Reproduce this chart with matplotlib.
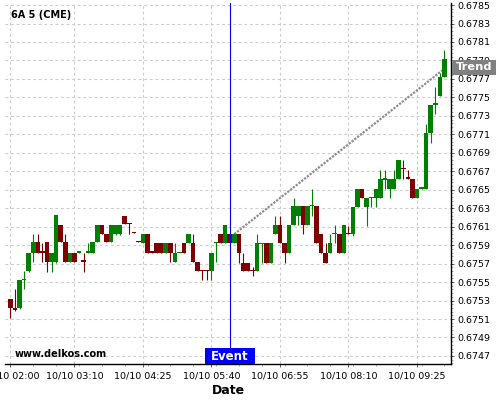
import numpy as np
import matplotlib
matplotlib.use("Agg")
import matplotlib.pyplot as plt
from matplotlib.patches import Rectangle
from matplotlib.ticker import FixedLocator, AutoMinorLocator, FuncFormatter
import matplotlib.transforms as mtransforms

# ---- data (5-minute bars, 10/10 02:00 .. 09:55) ----
opens = [0.67532, 0.67521, 0.67522, 0.67552, 0.67562, 0.67582, 0.67593, 0.67583, 0.67593, 0.67572,
         0.67572, 0.67612, 0.67593, 0.67572, 0.67582, 0.67582, 0.67573, 0.67582, 0.67582, 0.67593,
         0.67612, 0.67602, 0.67593, 0.67602, 0.67602, 0.67622, 0.67614, 0.67604, 0.67594, 0.67592,
         0.67602, 0.67583, 0.67592, 0.67592, 0.67582, 0.67592, 0.67572, 0.67581, 0.67592, 0.67592,
         0.67592, 0.67572, 0.67563, 0.67563, 0.67562, 0.67592, 0.67602, 0.67592, 0.67602, 0.67592,
         0.67602, 0.67571, 0.67571, 0.67563, 0.67562, 0.67591, 0.67592, 0.67571, 0.67602, 0.67612,
         0.67592, 0.67582, 0.67612, 0.67622, 0.67632, 0.67612, 0.67632, 0.67632, 0.67602, 0.67582,
         0.67582, 0.67602, 0.67602, 0.67582, 0.67603, 0.67602, 0.67631, 0.67651, 0.67631, 0.67641,
         0.67641, 0.67641, 0.67661, 0.67651, 0.67651, 0.67662, 0.67673, 0.67663, 0.67662, 0.67641,
         0.67651, 0.67651, 0.67711, 0.67742, 0.67752, 0.67772]
closes = [0.67522, 0.67520, 0.67552, 0.67553, 0.67582, 0.67593, 0.67582, 0.67582, 0.67572, 0.67582,
          0.67623, 0.67593, 0.67572, 0.67582, 0.67572, 0.67583, 0.67572, 0.67583, 0.67593, 0.67612,
          0.67602, 0.67593, 0.67612, 0.67612, 0.67612, 0.67613, 0.67613, 0.67603, 0.67593, 0.67602,
          0.67582, 0.67582, 0.67582, 0.67582, 0.67592, 0.67582, 0.67582, 0.67582, 0.67582, 0.67602,
          0.67572, 0.67562, 0.67562, 0.67562, 0.67582, 0.67593, 0.67592, 0.67612, 0.67592, 0.67602,
          0.67582, 0.67562, 0.67562, 0.67562, 0.67592, 0.67592, 0.67571, 0.67592, 0.67612, 0.67592,
          0.67582, 0.67612, 0.67632, 0.67632, 0.67612, 0.67632, 0.67633, 0.67592, 0.67582, 0.67571,
          0.67592, 0.67603, 0.67582, 0.67612, 0.67602, 0.67631, 0.67651, 0.67641, 0.67641, 0.67642,
          0.67651, 0.67662, 0.67662, 0.67662, 0.67662, 0.67682, 0.67672, 0.67662, 0.67641, 0.67651,
          0.67652, 0.67711, 0.67742, 0.67743, 0.67772, 0.67792]
highs = [0.67532, 0.67542, 0.67552, 0.67562, 0.67582, 0.67602, 0.67602, 0.67592, 0.67593, 0.67582,
         0.67623, 0.67612, 0.67602, 0.67582, 0.67582, 0.67583, 0.67582, 0.67592, 0.67593, 0.67612,
         0.67612, 0.67602, 0.67612, 0.67612, 0.67612, 0.67622, 0.67614, 0.67604, 0.67594, 0.67602,
         0.67602, 0.67583, 0.67592, 0.67592, 0.67592, 0.67592, 0.67592, 0.67582, 0.67592, 0.67602,
         0.67602, 0.67572, 0.67563, 0.67563, 0.67582, 0.67593, 0.67602, 0.67612, 0.67602, 0.67602,
         0.67602, 0.67581, 0.67571, 0.67566, 0.67602, 0.67592, 0.67592, 0.67592, 0.67622, 0.67622,
         0.67592, 0.67612, 0.67641, 0.67632, 0.67632, 0.67632, 0.67651, 0.67632, 0.67602, 0.67592,
         0.67602, 0.67612, 0.67602, 0.67612, 0.67611, 0.67631, 0.67651, 0.67651, 0.67641, 0.67642,
         0.67651, 0.67671, 0.67671, 0.67662, 0.67671, 0.67682, 0.67682, 0.67671, 0.67662, 0.67651,
         0.67652, 0.67721, 0.67742, 0.67761, 0.67776, 0.67801]
lows = [0.67511, 0.67519, 0.67521, 0.67542, 0.67561, 0.67572, 0.67582, 0.67572, 0.67561, 0.67561,
        0.67571, 0.67593, 0.67572, 0.67572, 0.67572, 0.67582, 0.67561, 0.67582, 0.67582, 0.67593,
        0.67602, 0.67593, 0.67593, 0.67601, 0.67601, 0.67613, 0.67602, 0.67603, 0.67593, 0.67592,
        0.67582, 0.67582, 0.67582, 0.67582, 0.67582, 0.67572, 0.67572, 0.67581, 0.67582, 0.67592,
        0.67572, 0.67562, 0.67552, 0.67552, 0.67552, 0.67572, 0.67592, 0.67592, 0.67592, 0.67592,
        0.67571, 0.67562, 0.67562, 0.67557, 0.67562, 0.67571, 0.67571, 0.67571, 0.67602, 0.67592,
        0.67571, 0.67582, 0.67612, 0.67612, 0.67602, 0.67612, 0.67622, 0.67592, 0.67582, 0.67571,
        0.67582, 0.67592, 0.67582, 0.67582, 0.67602, 0.67600, 0.67631, 0.67641, 0.67611, 0.67631,
        0.67631, 0.67641, 0.67651, 0.67641, 0.67651, 0.67662, 0.67662, 0.67662, 0.67641, 0.67641,
        0.67651, 0.67651, 0.67701, 0.67732, 0.67752, 0.67772]
x_tick_pos = [0, 14, 29, 44, 59, 74, 89]
x_tick_labels = ["10/10 02:00", "10/10 03:10", "10/10 04:25", "10/10 05:40",
                 "10/10 06:55", "10/10 08:10", "10/10 09:25"]
y_ticks = [0.6747, 0.6749, 0.6751, 0.6753, 0.6755, 0.6757, 0.6759, 0.6761, 0.6763,
           0.6765, 0.6767, 0.6769, 0.6771, 0.6773, 0.6775, 0.6777, 0.6779, 0.6781,
           0.6783, 0.6785]
event_index = 48
trend_x = [49, 95]
trend_y = [0.67602, 0.67781]

GREEN = "#008000"
RED = "#800000"

fig = plt.figure(figsize=(5, 4), dpi=100)
ax = fig.add_axes([5 / 500, 36 / 400, 446 / 500, 361 / 400])
ax.set_xlim(-1.204, 96.45)
ax.set_ylim(0.674613, 0.678522)

o = np.array(opens); c = np.array(closes); h = np.array(highs); l = np.array(lows)
x = np.arange(len(o))
colors = [GREEN if cc > oo else RED for oo, cc in zip(o, c)]

# trend line (under candles)
ax.plot(trend_x, trend_y, color="#8c8c8c", lw=1.6, linestyle=(0, (1.0, 0.6)), zorder=2)

# wicks
ax.vlines(x, l, h, colors=colors, lw=0.8, zorder=3)
# bodies
body_bottom = np.minimum(o, c)
body_h = np.maximum(np.abs(c - o), 0.000015)
ax.bar(x, body_h, bottom=body_bottom, width=1.0, color=colors, linewidth=0, zorder=4)

# event line
ax.axvline(event_index, color="#0000ff", lw=0.8, zorder=5)
blend = mtransforms.blended_transform_factory(ax.transData, ax.transAxes)
ev_w = 50 / 4.567
ax.add_patch(Rectangle((event_index - ev_w / 2, 0), ev_w, 16 / 361, transform=blend,
                       facecolor="#0000ff", edgecolor="none", zorder=6, clip_on=False))
ax.text(event_index, 8 / 361, "Event", transform=blend, color="white", fontsize=8.5,
        fontweight="bold", ha="center", va="center", zorder=7)

# grid
ax.grid(True, which="major", color="#cccccc", linestyle=(0, (2.5, 2.5)), linewidth=0.8)
ax.set_axisbelow(True)

# axes / ticks
for s in ["left", "top"]:
    ax.spines[s].set_visible(False)
for s in ["bottom", "right"]:
    ax.spines[s].set_color("black")
    ax.spines[s].set_linewidth(1.0)

ax.yaxis.tick_right()
ax.yaxis.set_major_locator(FixedLocator(y_ticks))
ax.yaxis.set_minor_locator(AutoMinorLocator(5))
ax.yaxis.set_major_formatter(FuncFormatter(lambda v, p: f"{v:.4f}"))
ax.xaxis.set_major_locator(FixedLocator(x_tick_pos))
ax.set_xticklabels(x_tick_labels)
ax.xaxis.set_minor_locator(FixedLocator(list(range(0, 96, 5))))
ax.tick_params(axis="both", which="major", labelsize=6.8, length=2.5, width=0.6, color="#444444")
ax.tick_params(axis="both", which="minor", length=1.5, width=0.5, color="#888888")
ax.tick_params(axis="y", which="major", pad=2.2)
ax.tick_params(axis="x", which="major", pad=3.0)

# texts
fig.text(11 / 500, 1 - 15.5 / 400, "6A 5 (CME)", fontsize=7, fontweight="bold",
         ha="left", va="center")
fig.text(15 / 500, 1 - 354 / 400, "www.delkos.com", fontsize=7, fontweight="bold",
         ha="left", va="center")
fig.text(228 / 500, 1 - 390 / 400, "Date", fontsize=9, fontweight="bold",
         ha="center", va="center")

# Trend label box
fig.patches.append(Rectangle((452 / 500, 1 - 74.5 / 400), 44 / 500, 14.5 / 400,
                             transform=fig.transFigure, facecolor="#808080",
                             edgecolor="none"))
fig.text(474 / 500, 1 - 67.5 / 400, "Trend", fontsize=8.2, fontweight="bold",
         color="white", ha="center", va="center")

fig.savefig("out.png", dpi=100)
